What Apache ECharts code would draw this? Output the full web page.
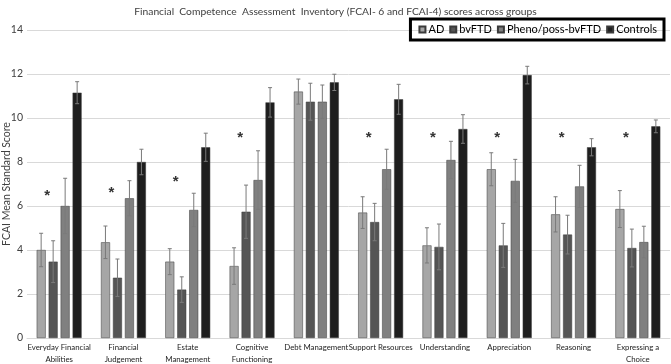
<!DOCTYPE html>
<html><head><meta charset="utf-8">
<script src="https://cdn.jsdelivr.net/npm/echarts@6/dist/echarts.min.js"></script>
<style>html,body{margin:0;padding:0;background:#fff}#c{width:671px;height:364px}</style>
</head><body><div id="c"></div>
<script>
const categories = ['Everyday Financial\nAbilities','Financial\nJudgement','Estate\nManagement','Cognitive\nFunctioning','Debt Management','Support Resources','Understanding','Appreciation','Reasoning','Expressing a\nChoice'];
const seriesNames = ['AD','bvFTD','Pheno/poss-bvFTD','Controls'];
const AD       = [4.0, 4.35, 3.47, 3.27, 11.2, 5.7, 4.21, 7.67, 5.62, 5.86];
const bvFTD    = [3.47, 2.74, 2.2, 5.74, 10.74, 5.27, 4.14, 4.21, 4.7, 4.09];
const Pheno    = [6.0, 6.35, 5.82, 7.18, 10.74, 7.67, 8.09, 7.14, 6.89, 4.36];
const Controls = [11.15, 8.0, 8.67, 10.71, 11.62, 10.85, 9.5, 11.95, 8.67, 9.62];
const errAD       = [0.76, 0.74, 0.59, 0.83, 0.57, 0.72, 0.8, 0.75, 0.8, 0.84];
const errBvFTD    = [0.95, 0.85, 0.58, 1.21, 0.84, 0.85, 1.04, 1.0, 0.88, 0.86];
const errPheno    = [1.26, 0.8, 0.76, 1.33, 0.76, 0.91, 0.85, 0.98, 0.96, 0.72];
const errControls = [0.5, 0.58, 0.64, 0.67, 0.37, 0.68, 0.65, 0.4, 0.39, 0.29];
const starLevel   = [6.65, 6.77, 7.3, 9.29, null, 9.27, 9.27, 9.27, 9.27, 9.27];
const yTicks = [0, 2, 4, 6, 8, 10, 12, 14];

const FONT = 'Lato, "Liberation Sans", sans-serif';
const colors = ['#a6a6a6','#555555','#808080','#1e1e1e'];
const values = [AD, bvFTD, Pheno, Controls];
const errs = [errAD, errBvFTD, errPheno, errControls];
const BW = 9, STEP = 12;

const chart = echarts.init(document.getElementById('c'));
const series = [];
values.forEach((v, k) => {
  series.push({
    name: seriesNames[k], type: 'bar', data: v, barWidth: BW, barGap: '33%',
    itemStyle: { color: colors[k], borderColor: '#3a3a3a', borderWidth: 0.5 },
    z: 2
  });
});
values.forEach((v, k) => {
  series.push({
    type: 'custom', z: 5, silent: true,
    data: v.map((m, i) => [i, m - errs[k][i], m + errs[k][i]]),
    renderItem: function (params, api) {
      const lo = api.coord([api.value(0), api.value(1)]);
      const hi = api.coord([api.value(0), api.value(2)]);
      const x = lo[0] + (k - 1.5) * STEP;
      const st = { stroke: '#7a7a7a', lineWidth: 1 };
      return { type: 'group', children: [
        { type: 'line', shape: { x1: x, y1: lo[1], x2: x, y2: hi[1] }, style: st },
        { type: 'line', shape: { x1: x - 2, y1: lo[1], x2: x + 2, y2: lo[1] }, style: st },
        { type: 'line', shape: { x1: x - 2, y1: hi[1], x2: x + 2, y2: hi[1] }, style: st }
      ]};
    }
  });
});
series.push({
  type: 'custom', z: 6, silent: true,
  data: starLevel.map((s, i) => [i, s]).filter(d => d[1] !== null),
  renderItem: function (params, api) {
    const p = api.coord([api.value(0), api.value(1)]);
    return { type: 'text', x: p[0] - 12, y: p[1] + 4,
      style: { text: '*', fill: '#333', font: 'bold 15px "Liberation Sans"', align: 'center', verticalAlign: 'middle' } };
  }
});

chart.setOption({
  animation: false,
  title: { text: 'Financial  Competence  Assessment  Inventory (FCAI- 6 and FCAI-4) scores across groups',
    left: 'center', top: 2,
    textStyle: { fontSize: 10.3, fontWeight: 'normal', color: '#404040', fontFamily: FONT } },
  legend: {
    data: seriesNames, right: 7, top: 19, itemWidth: 6, itemHeight: 6, itemGap: 5, icon: 'rect',
    borderColor: '#000', borderWidth: 3, padding: [5, 7, 5, 8],
    textStyle: { fontSize: 11, color: '#000', fontFamily: FONT, padding: [0,0,0,-2] }
  },
  grid: { left: 27, right: 1, top: 30, bottom: 26, outerBoundsMode: 'none' },
  xAxis: {
    type: 'category', data: categories,
    axisLine: { lineStyle: { color: '#d9d9d9' } }, axisTick: { show: false },
    axisLabel: { interval: 0, fontSize: 7.8, color: '#222', lineHeight: 12, margin: 3, fontFamily: FONT }
  },
  yAxis: {
    type: 'value', min: yTicks[0], max: yTicks[yTicks.length - 1], interval: 2,
    name: 'FCAI Mean Standard Score', nameLocation: 'middle', nameGap: 15, nameMoveOverlap: false,
    nameTextStyle: { fontSize: 10.5, color: '#404040', fontFamily: FONT },
    axisLabel: { fontSize: 10.5, color: '#404040', margin: 4, fontFamily: FONT },
    splitLine: { lineStyle: { color: '#d9d9d9' } }
  },
  series: series
});
</script></body></html>
